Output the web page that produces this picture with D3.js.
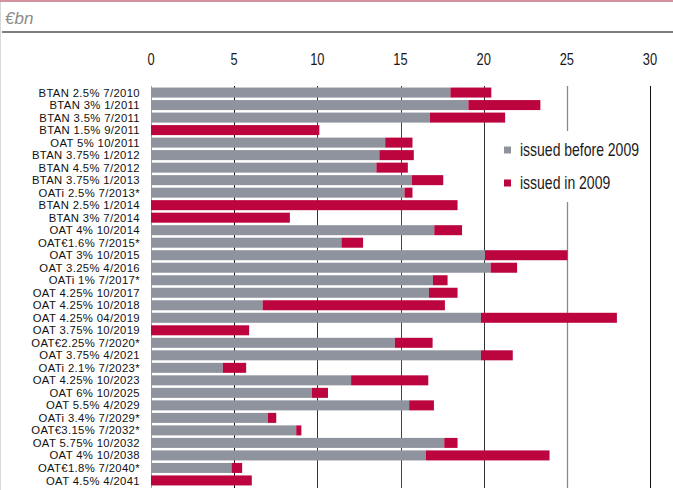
<!DOCTYPE html>
<html><head><meta charset="utf-8">
<script src="https://cdn.jsdelivr.net/npm/d3@7"></script>
<style>
html,body{margin:0;padding:0;background:#fff;}
svg{display:block;}
</style></head>
<body>
<svg id="c" width="673" height="490"></svg>
<script>
const categories = ["BTAN 2.5% 7/2010","BTAN 3% 1/2011","BTAN 3.5% 7/2011","BTAN 1.5% 9/2011","OAT 5% 10/2011","BTAN 3.75% 1/2012","BTAN 4.5% 7/2012","BTAN 3.75% 1/2013","OATi 2.5% 7/2013*","BTAN 2.5% 1/2014","BTAN 3% 7/2014","OAT 4% 10/2014","OAT€1.6% 7/2015*","OAT 3% 10/2015","OAT 3.25% 4/2016","OATi 1% 7/2017*","OAT 4.25% 10/2017","OAT 4.25% 10/2018","OAT 4.25% 04/2019","OAT 3.75% 10/2019","OAT€2.25% 7/2020*","OAT 3.75% 4/2021","OATi 2.1% 7/2023*","OAT 4.25% 10/2023","OAT 6% 10/2025","OAT 5.5% 4/2029","OATi 3.4% 7/2029*","OAT€3.15% 7/2032*","OAT 5.75% 10/2032","OAT 4% 10/2038","OAT€1.8% 7/2040*","OAT 4.5% 4/2041"];
const issuedBefore2009 = [18.0,19.08,16.77,0,14.08,13.73,13.55,15.68,15.24,0,0,17.03,11.45,20.08,20.42,16.95,16.71,6.71,19.84,0,14.66,19.84,4.32,12.03,9.68,15.52,7.03,8.73,17.63,16.53,4.84,0];
const issuedIn2009 = [2.46,4.33,4.52,10.12,1.64,2.07,1.89,1.89,0.48,18.43,8.35,1.67,1.3,4.96,1.59,0.88,1.72,10.96,8.17,5.9,2.27,1.91,1.4,4.64,0.96,1.49,0.5,0.31,0.8,7.43,0.64,6.06];
const xTicks = [0,5,10,15,20,25,30];
const seriesNames = ["issued before 2009","issued in 2009"];
const colors = ["#8f939e","#bc053f"];

const svg = d3.select("#c");
const sans = "'Liberation Sans',Arial,sans-serif";

// frame
svg.append("line").attr("x1",0.5).attr("x2",0.5).attr("y1",0).attr("y2",490).attr("stroke","#d8d8d8").attr("stroke-width",1);
svg.append("rect").attr("x",0).attr("y",0).attr("width",673).attr("height",2).attr("fill","#d4919f");
svg.append("text").attr("x",5).attr("y",24).text("€bn")
  .attr("font-family",sans).attr("font-style","italic")
  .attr("font-size",17).attr("fill","#8a8a8a");
svg.append("rect").attr("x",2).attr("y",31).attr("width",671).attr("height",2).attr("fill","#7f7f7f");

const x = d3.scaleLinear().domain([0,30]).range([151,650]);
const y = d3.scaleBand().domain(categories).range([86.3,486.7]).paddingInner(0.2).paddingOuter(0.1);

function condensed(sel, sx){
  return sel.attr("transform", function(){
    const tx = +this.getAttribute("data-x"), ty = +this.getAttribute("data-y");
    return `translate(${tx},${ty}) scale(${sx},1)`;
  });
}

// tick labels
svg.append("g").selectAll("text").data(xTicks).join("text")
  .attr("data-x",d=>x(d)).attr("data-y",64.5).attr("text-anchor","middle")
  .attr("font-family",sans).attr("font-size",16.5).attr("fill","#1a1a1a")
  .text(d=>d).call(condensed,0.78);

// gridlines
const gridColor = {0:"#a0a0a0",5:"#111",10:"#333",15:"#444",20:"#333",25:"#8a8a8a",30:"#111"};
svg.append("g").selectAll("line").data(xTicks).join("line")
  .attr("x1",d=>Math.round(x(d))+0.5).attr("x2",d=>Math.round(x(d))+0.5)
  .attr("y1",86).attr("y2",488)
  .attr("stroke",d=>gridColor[d]).attr("stroke-width",d=>d===25?1.3:1);

// bars
const rows = categories.map((c,i)=>({c,a:issuedBefore2009[i],b:issuedIn2009[i]}));
const g = svg.append("g");
g.selectAll("rect.a").data(rows.filter(r=>r.a>0)).join("rect").attr("class","a")
  .attr("x",x(0)).attr("y",d=>y(d.c)).attr("height",y.bandwidth())
  .attr("width",d=>x(d.a)-x(0)).attr("fill",colors[0]);
g.selectAll("rect.b").data(rows.filter(r=>r.b>0)).join("rect").attr("class","b")
  .attr("x",d=>x(d.a)).attr("y",d=>y(d.c)).attr("height",y.bandwidth())
  .attr("width",d=>x(d.a+d.b)-x(d.a)).attr("fill",colors[1]);

// category labels
svg.append("g").selectAll("text").data(categories).join("text")
  .attr("x",140).attr("y",d=>y(d)+y.bandwidth()/2).attr("dy","0.36em")
  .attr("text-anchor","end").attr("font-family",sans)
  .attr("font-size",11.3).attr("fill","#111").attr("letter-spacing","0.35")
  .text(d=>d);

// legend
const lg = svg.append("g");
lg.append("rect").attr("x",498).attr("y",131).attr("width",145).attr("height",71).attr("fill","#fff");
seriesNames.forEach((n,i)=>{
  const cy = 150 + i*33;
  lg.append("rect").attr("x",504).attr("y",cy-3.5).attr("width",7).attr("height",7).attr("fill",colors[i]);
  lg.append("text").attr("data-x",520).attr("data-y",cy+6)
    .attr("font-family",sans).attr("font-size",17.5).attr("fill","#1a1a1a").text(n).call(condensed,0.8);
});
</script>
</body></html>
